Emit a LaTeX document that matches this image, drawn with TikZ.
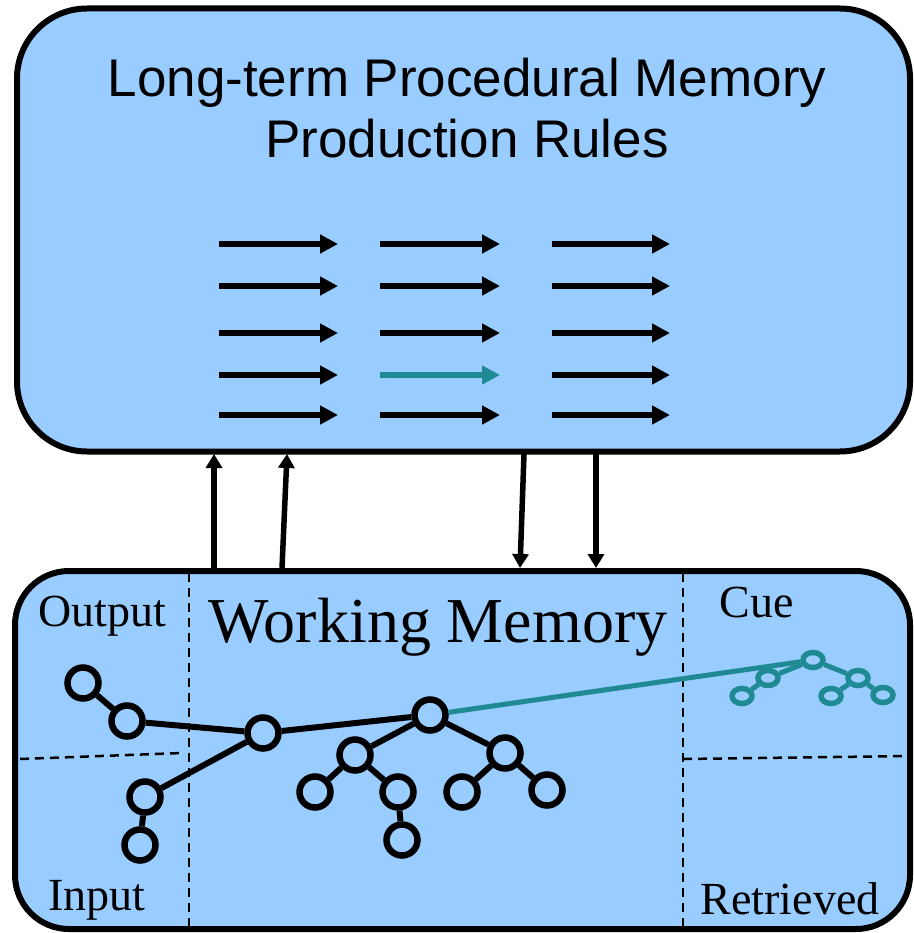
\documentclass[tikz,border=0pt]{standalone}
\usepackage{fontspec}
\setmainfont{Liberation Serif}
\newfontfamily\titlefont{Liberation Sans}
\usetikzlibrary{arrows.meta,shapes.geometric}
\definecolor{memblue}{RGB}{153,204,255}
\definecolor{cueteal}{RGB}{31,138,148}
\tikzset{
  membox/.style={draw, line width=6pt, fill=memblue, rounded corners=70pt, inner sep=0pt},
  wmnode/.style={circle, draw, line width=6.5pt, fill=memblue, minimum size=31pt, inner sep=0pt},
  cuenode/.style={ellipse, draw=cueteal, line width=5.5pt, fill=memblue, minimum width=20pt, minimum height=15pt, inner sep=0pt},
  wmedge/.style={line width=6pt},
  cueedge/.style={draw=cueteal, line width=5pt},
  rulearrow/.style={line width=6pt, -{Triangle[length=18pt,width=18pt]}},
  flowarrow/.style={line width=5.5pt, -{Triangle[length=14pt,width=16pt]}},
  divider/.style={line width=2.5pt, dash pattern=on 9pt off 6pt},
  wmlabel/.style={anchor=base, inner sep=0pt, font=\fontsize{46}{50}\selectfont},
}
\begin{document}
\begin{tikzpicture}[x=1pt, y=-1pt]
\useasboundingbox (0,0) rectangle (913,933);

% long-term procedural memory
\node[membox, minimum width=893pt, minimum height=443pt] (ltm) at (463.5,230) {};
\node[anchor=base, inner sep=0pt, font=\titlefont\fontsize{53}{61}\selectfont] (title1) at (467,97) {Long-term Procedural Memory};
\node[anchor=base, inner sep=0pt, font=\titlefont\fontsize{53}{61}\selectfont] (title2) at (467,158) {Production Rules};

% production rules
\foreach \y [count=\r] in {244,286,333,375,415} {
  \foreach \xa/\xb [count=\c] in {219/338, 380/500, 552/670} {
    \coordinate (r\r c\c a) at (\xa,\y);
    \coordinate (r\r c\c b) at (\xb,\y);
  }
}
\foreach \r in {1,...,5} {
  \foreach \c in {1,2,3} {
    \ifnum\r=4 \ifnum\c=2 \def\rc{cueteal}\else\def\rc{black}\fi\else\def\rc{black}\fi
    \draw[rulearrow, draw=\rc, fill=\rc] (r\r c\c a) -- (r\r c\c b);
  }
}

% working memory
\node[membox, rounded corners=54pt, minimum width=895pt, minimum height=358pt] (wm) at (462.5,750) {};

% flow between the memories
\coordinate (up1s) at (214,568); \coordinate (up1e) at (214,454);
\coordinate (up2s) at (282,568); \coordinate (up2e) at (287,454);
\coordinate (dn1s) at (524,454); \coordinate (dn1e) at (520,568);
\coordinate (dn2s) at (596,454); \coordinate (dn2e) at (596,568);
\draw[flowarrow] (up1s) -- (up1e);
\draw[flowarrow] (up2s) -- (up2e);
\draw[flowarrow] (dn1s) -- (dn1e);
\draw[flowarrow] (dn2s) -- (dn2e);

% buffer dividers
\coordinate (dv1t) at (189,573); \coordinate (dv1b) at (189,927);
\coordinate (dv2t) at (683,573); \coordinate (dv2b) at (683,927);
\coordinate (dh1a) at (20,759);  \coordinate (dh1b) at (182,753);
\coordinate (dh2a) at (683,759); \coordinate (dh2b) at (910,756);
\draw[divider] (dv1t) -- (dv1b);
\draw[divider] (dv2t) -- (dv2b);
\draw[divider] (dh1a) -- (dh1b);
\draw[divider] (dh2a) -- (dh2b);

% labels
\node[wmlabel] (lout) at (102,626) {Output};
\node[wmlabel] (lin) at (97,910) {Input};
\node[wmlabel] (lcue) at (757,617) {Cue};
\node[wmlabel] (lret) at (790,914) {Retrieved};
\node[wmlabel, font=\fontsize{64}{70}\selectfont] (lwm) at (438,642) {Working Memory};

% cue link
\node[cuenode] (c1) at (813,660) {};
\node[wmnode] (n4) at (430,715) {};
\draw[cueedge] (n4) -- (c1);

% working memory graph
\node[wmnode] (n1) at (83,683) {};
\node[wmnode] (n2) at (127,721) {};
\node[wmnode] (n3) at (263,733) {};
\node[wmnode] (n5) at (145,797) {};
\node[wmnode] (n6) at (140,845) {};
\node[wmnode] (n7) at (355,755) {};
\node[wmnode] (n8) at (315,792) {};
\node[wmnode] (n9) at (398,792) {};
\node[wmnode] (n10) at (402,840) {};
\node[wmnode] (n11) at (505,753) {};
\node[wmnode] (n12) at (462,792) {};
\node[wmnode] (n13) at (547,790) {};
\foreach \a/\b in {n1/n2, n2/n3, n3/n4, n3/n5, n5/n6, n4/n7, n7/n8, n7/n9, n9/n10, n4/n11, n11/n12, n11/n13}
  \draw[wmedge] (\a) -- (\b);

% cue graph
\node[cuenode] (c2) at (768,678) {};
\node[cuenode] (c3) at (742,696) {};
\node[cuenode] (c4) at (858,678) {};
\node[cuenode] (c5) at (831,696) {};
\node[cuenode] (c6) at (883,695) {};
\foreach \a/\b in {c1/c2, c2/c3, c1/c4, c4/c5, c4/c6}
  \draw[cueedge] (\a) -- (\b);
\end{tikzpicture}
\end{document}
